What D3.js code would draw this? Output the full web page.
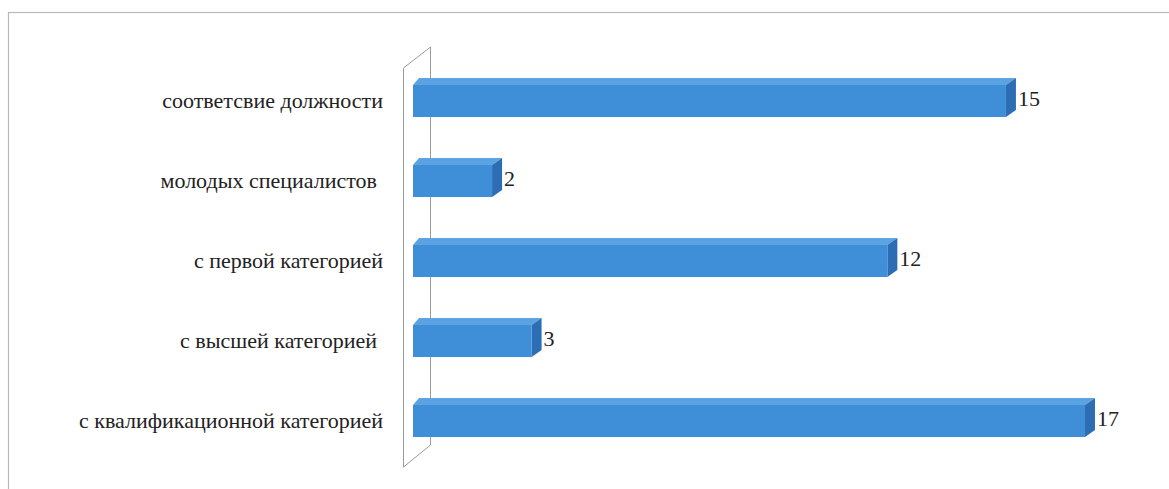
<!DOCTYPE html>
<html><head><meta charset="utf-8">
<script src="https://cdn.jsdelivr.net/npm/d3@7"></script>
</head><body style="margin:0">
<svg id="c" width="1169" height="489" style="display:block"></svg>
<script>
const categories = ["соответсвие должности","молодых специалистов ","с первой категорией","с высшей категорией ","с квалификационной категорией"];
const values = [15, 2, 12, 3, 17];

const svg = d3.select("#c");
const dx = 10, dy = 7;
svg.append("rect").attr("x",8.5).attr("y",12.5).attr("width",1180).attr("height",500)
  .attr("fill","none").attr("stroke","#b8b8b8").attr("stroke-width",1.2);

const x = d3.scaleLinear().domain([0, d3.max(values)]).range([413, 1085]);
const y = d3.scaleBand().domain(categories).range([61, 461]).paddingInner(0.6).paddingOuter(0.3);

const wx0 = 403.5, wx1 = 430.5, wTop = 68, wBot = 467;
svg.append("path")
  .attr("d", `M${wx0},${wTop} L${wx1},${wTop-21} L${wx1},${wBot-22} L${wx0},${wBot} Z`)
  .attr("fill","none").attr("stroke","#9a9a9a").attr("stroke-width",1);

categories.forEach((c,i)=>{
  const v = values[i];
  const x0 = x(0), x1 = x(v), y0 = y(c), h = y.bandwidth();
  svg.append("path").attr("d",`M${x0},${y0} L${x0+dx*0.6},${y0-dy} L${x1+dx},${y0-dy} L${x1},${y0} Z`)
    .attr("fill","#5ca3e4");
  svg.append("path").attr("d",`M${x1},${y0} L${x1+dx},${y0-dy} L${x1+dx},${y0+h-dy} L${x1},${y0+h} Z`)
    .attr("fill","#2c6db4");
  svg.append("rect").attr("x",x0).attr("y",y0).attr("width",x1-x0).attr("height",h).attr("fill","#3f8ed8");
  const t1 = svg.append("text").attr("x",x1+dx+2).attr("y",y0+h/2+5).attr("fill","#222").text(v);
  t1.node().style.setProperty("font-family","'Liberation Serif', serif","important");
  t1.node().style.setProperty("font-size","22px","important");
  const trail = c.endsWith(" ") ? 6 : 0;
  const t2 = svg.append("text").attr("x",383-trail).attr("y",y0+h/2+7).attr("text-anchor","end")
    .attr("fill","#222").text(c.trim());
  t2.node().style.setProperty("font-family","'Liberation Serif', serif","important");
  t2.node().style.setProperty("font-size","22px","important");
});
</script>
</body></html>
